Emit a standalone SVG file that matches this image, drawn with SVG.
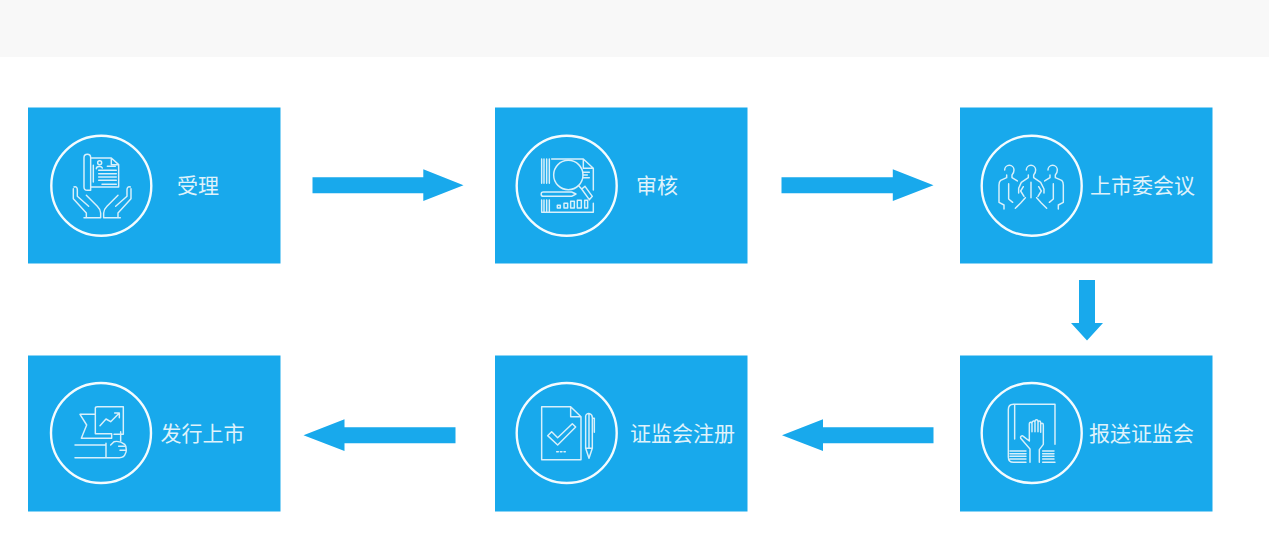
<svg xmlns="http://www.w3.org/2000/svg" width="1269" height="555" viewBox="0 0 1269 555">
<style>
.box{fill:#18a9ec}
.ring{fill:none;stroke:#f4fbfe;stroke-width:2.4}
.ic{fill:none;stroke:#d8f0fb;stroke-width:4.4;stroke-linejoin:round;stroke-linecap:round}
.lbl{font-family:"Noto Sans CJK SC","Noto Sans",sans-serif;font-size:21px;font-weight:400;fill:#dff2fb;text-anchor:middle}
.arrow{fill:#18a9ec}
</style>
<rect width="1269" height="555" fill="#fff"/>
<rect width="1269" height="57" fill="#f8f8f8"/>
<g id="connectors">
<polygon class="arrow" points="312.500,177.300 423.300,177.300 423.300,169.300 463.500,185.200 423.300,201 423.300,193.300 312.500,193.300"/>
<polygon class="arrow" points="781.500,177.300 892.800,177.300 892.800,169.300 933.500,185.200 892.800,201 892.800,193.300 781.500,193.300"/>
<polygon class="arrow" points="1079,280 1095,280 1095,323 1103,323 1087,340.500 1071,323 1079,323"/>
<polygon class="arrow" points="933.500,427.300 823,427.300 823,419.300 782,435.200 823,451 823,443.300 933.500,443.300"/>
<polygon class="arrow" points="455.500,427.300 344.500,427.300 344.500,419.300 303.500,435.200 344.500,451 344.500,443.300 455.500,443.300"/>
</g>
<g id="node-accept">
<rect class="box" x="28" y="107.500" width="252.500" height="156"/>
<circle class="ring" cx="101.300" cy="185.700" r="50"/>
<g transform="translate(28 107) scale(.3333)">
<path class="ic" d="M188 153H250L272 173V240H188M250 153V173H272M188 240V152a10 10 0 0 0-20 0V240a10 10 0 0 0 10 10H188V240"/>
<circle class="ic" cx="215" cy="167" r="6"/>
<path class="ic" d="M205 185c0-8 16-8 18-2M238 178H262M212 190H265M212 200H265M212 210H265M212 220H265M222 232H265M196 175V225"/>
<path class="ic" d="M138 240c6-3 10 2 10 8V268L182 298M175 265L208 298c8 8 10 14 10 20V332M136 245V275L175 318V332M168 332H218"/>
<path class="ic" d="M307 240c-6-3-10 2-10 8V268L263 298M270 265L237 298c-8 8-10 14-10 20V332M309 245V275L270 318V332M277 332H228"/>
</g>
<text class="lbl" x="198" y="192.800">受理</text>
</g>
<g id="node-review">
<rect class="box" x="495" y="107.500" width="252.500" height="156"/>
<circle class="ring" cx="566.700" cy="185.700" r="50"/>
<g transform="translate(500 125) scale(.3333)">
<path class="ic" d="M125 102V175M132 102V175M140 102V175M148 102V175M125 225V262M132 225V262M140 225V262M148 225V262M155 102H250L280 130V195M250 102V130H280M125 262H280V235"/>
<circle class="ic" cx="205" cy="150" r="44"/>
<path class="ic" d="M236 182L245 192M245 192L255 184L277 214L268 224ZM250 142H268M250 150H262M250 158H268"/>
<path class="ic" d="M130 201H215L228 207L215 214H130a6 6 0 0 1 0-13Z"/>
<path class="ic" d="M172 241h9v8h-9ZM192 235h11v14h-11ZM212 229h11v20h-11ZM232 226h12v23h-12ZM254 226h9v23h-9Z"/>
</g>
<text class="lbl" x="657" y="192.800">审核</text>
</g>
<g id="node-committee">
<rect class="box" x="960" y="107.500" width="252.500" height="156"/>
<circle class="ring" cx="1031.700" cy="185.700" r="50"/>
<g transform="translate(970 125) scale(.3333)">
<path class="ic" d="M104 135a14 14 0 0 1 28 0c0 8-3 12-6 15V158L142 168M110 150V158L92 166C88 170 87 174 87 180V232L102 240V252M116 176V222L128 232"/>
<path class="ic" d="M169 135a14 14 0 0 1 28 0c0 8-3 12-6 15V158L212 172L222 192V204M175 150V158L154 172L146 190V204M183 172V218M160 185L152 198L162 214M206 185L214 198L204 214M166 218L152 234L136 250M200 218L214 234L230 250"/>
<path class="ic" d="M234 135a14 14 0 0 1 28 0c0 8-3 12-6 15V158L275 166C279 170 280 174 280 180V232L265 240V252M240 150V158L224 168M250 176V222L238 232"/>
</g>
<text class="lbl" x="1142.500" y="192.800">上市委会议</text>
</g>
<g id="node-submit">
<rect class="box" x="960" y="355.500" width="252.500" height="156"/>
<circle class="ring" cx="1031.700" cy="433" r="50"/>
<g transform="translate(970 375) scale(.3333)">
<path class="ic" d="M150 88H255V208M150 88H130C120 88 115 94 115 104V246C115 256 120 262 130 262H168M134 88V192M120 228H168M120 236H168M120 244H168M120 252H168M218 236H252M218 244H252M218 252H252M218 228H252M218 262H255"/>
<path class="ic" d="M180 262V222L152 190C150 184 156 180 160 184L178 198V148c0-8 8-8 8 0V170M186 145c0-8 8-10 9-2V170M195 140c0-8 9-8 9 0V170M204 143c0-7 8-7 8 0V172M212 150c0-7 8-7 8 0V208L208 224V262"/>
</g>
<text class="lbl" x="1141.500" y="440.800">报送证监会</text>
</g>
<g id="node-register">
<rect class="box" x="495" y="355.500" width="252.500" height="156"/>
<circle class="ring" cx="566.700" cy="433" r="50"/>
<g transform="translate(505 375) scale(.3333)">
<path class="ic" d="M110 95H197L228 125V254H110ZM197 95V125H228"/>
<path class="ic" d="M128 182L140 170L158 188L202 146L212 156L158 210Z"/>
<path class="ic" d="M155 230H160M166 230H171M177 230H181"/>
<path class="ic" d="M242 124C242 118 248 114 254 116C260 118 262 122 262 128V220L252 250L242 220ZM262 130H268V172M242 220H262M252 116V220"/>
</g>
<text class="lbl" x="682.500" y="440.800">证监会注册</text>
</g>
<g id="node-listing">
<rect class="box" x="28" y="355.500" width="252.500" height="156"/>
<circle class="ring" cx="101" cy="433" r="50"/>
<g transform="translate(40 375) scale(.3333)">
<path class="ic" d="M166 118V176H215V190H124L140 150L120 118H166"/>
<path class="ic" d="M166 118V100C166 96 168 95 172 95H250V178H222M242 170V198"/>
<path class="ic" d="M180 152L198 132L212 140L238 114M224 114H238V128"/>
<path class="ic" d="M105 210H198M105 248H198M198 205V248H238C248 248 254 244 256 236C260 232 260 214 254 208C244 200 232 198 222 200L212 210"/>
<path class="ic" d="M236 214H254M240 226H258"/>
</g>
<text class="lbl" x="202.500" y="440.800">发行上市</text>
</g>
</svg>
